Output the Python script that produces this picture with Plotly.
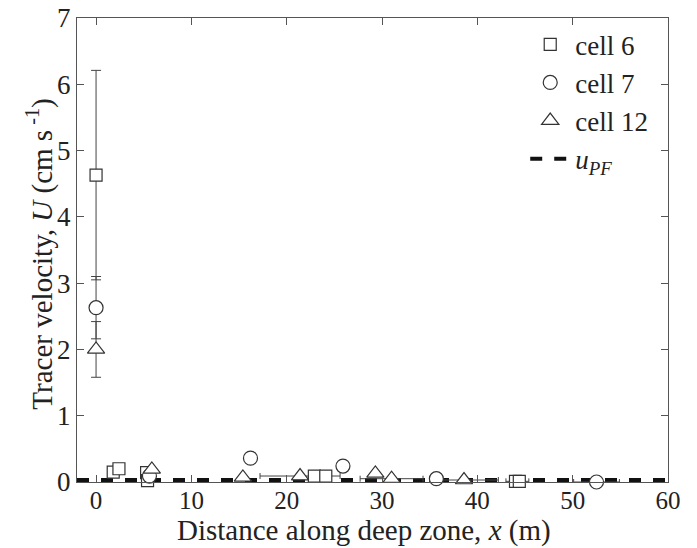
import plotly.graph_objects as go

# ---- data ----
cell6_x = [0, 1.8, 2.4, 5.3, 5.4, 22.9, 24.1, 44.0, 44.4]
cell6_y = [4.63, 0.15, 0.20, 0.14, 0.02, 0.09, 0.09, 0.01, 0.01]
cell7_x = [0, 5.6, 16.2, 25.9, 35.7, 52.5]
cell7_y = [2.63, 0.09, 0.36, 0.24, 0.05, 0.0]
cell12_x = [0, 5.85, 15.4, 21.4, 29.3, 31.0, 38.6]
cell12_y = [2.00, 0.19, 0.07, 0.09, 0.13, 0.05, 0.03]

# vertical error bars (x = 0 points)
verr_x = [0, 0, 0]
verr_y = [4.63, 2.63, 2.00]
verr_plus = [1.58, 0.47, 0.42]
verr_minus = [1.58, 0.47, 0.42]

# horizontal error bars
herr_x = [21.4, 31.0, 38.6, 44.2, 52.5, 23.5]
herr_y = [0.09, 0.05, 0.03, 0.01, 0.0, 0.09]
herr_w = [4.2, 3.3, 3.6, 1.2, 2.4, 1.0]

upf_x = [-2, 60]
upf_y = [0.03, 0.03]

x_ticks = [0, 10, 20, 30, 40, 50, 60]
y_ticks = [0, 1, 2, 3, 4, 5, 6, 7]

x_title = "Distance along deep zone, <i>x</i> (m)"
y_title = "Tracer velocity, <i>U</i> (cm s<sup> -1</sup>)"

mk_col = "#333333"
font = "Liberation Serif"

fig = go.Figure()

fig.add_trace(go.Scatter(x=upf_x, y=upf_y, mode="lines",
                         line=dict(color="#111111", width=4, dash="dash"),
                         showlegend=False, cliponaxis=False))

fig.add_trace(go.Scatter(x=herr_x, y=herr_y, mode="markers",
                         marker=dict(size=1, color="rgba(0,0,0,0)"),
                         error_x=dict(type="data", array=herr_w, color="#444444",
                                      thickness=1, width=3),
                         showlegend=False, hoverinfo="skip"))
fig.add_trace(go.Scatter(x=verr_x, y=verr_y, mode="markers",
                         marker=dict(size=1, color="rgba(0,0,0,0)"),
                         error_y=dict(type="data", array=verr_plus, arrayminus=verr_minus,
                                      symmetric=False, color="#444444",
                                      thickness=1, width=5),
                         showlegend=False, hoverinfo="skip"))

common = dict(mode="markers", cliponaxis=False)
fig.add_trace(go.Scatter(x=cell6_x, y=cell6_y, name="cell 6",
                         marker=dict(symbol="square", size=12, color="white",
                                     line=dict(color=mk_col, width=1.2)), **common))
fig.add_trace(go.Scatter(x=cell7_x, y=cell7_y, name="cell 7",
                         marker=dict(symbol="circle", size=14, color="white",
                                     line=dict(color=mk_col, width=1.2)), **common))
fig.add_trace(go.Scatter(x=cell12_x, y=cell12_y, name="cell 12",
                         marker=dict(symbol="triangle-up", size=15, color="white",
                                     line=dict(color=mk_col, width=1.2)), **common))
fig.add_trace(go.Scatter(x=[None], y=[None], mode="lines",
                         line=dict(color="#111111", width=4, dash="dash"),
                         name="<i>u</i><sub><i>PF</i></sub>"))

axis_common = dict(showline=True, linecolor="#555555", linewidth=1, mirror="ticks",
                   ticks="inside", ticklen=7, tickcolor="#555555", showgrid=False,
                   zeroline=False, automargin=False,
                   tickfont=dict(family=font, size=27, color="#222"))

fig.update_layout(
    width=697, height=548,
    margin=dict(l=77, r=29, t=18, b=66),
    paper_bgcolor="white", plot_bgcolor="white",
    font=dict(family=font, size=27, color="#222"),
    xaxis=dict(range=[-2, 60], tickvals=x_ticks, ticklabelstandoff=-4,
               **{**axis_common, "tickfont": dict(family=font, size=25, color="#222")}),
    yaxis=dict(range=[0, 7], tickvals=y_ticks, **axis_common),
    legend=dict(x=0.975, y=0.995, xanchor="right", yanchor="top",
                bgcolor="rgba(0,0,0,0)", font=dict(family=font, size=27),
                itemwidth=40, tracegroupgap=0),
    annotations=[
        dict(text=x_title, xref="paper", yref="paper", x=0.485, y=0,
             xanchor="center", yanchor="bottom", yshift=-67,
             showarrow=False, font=dict(family=font, size=29, color="#222")),
        dict(text=y_title, xref="paper", yref="paper", x=0, y=0.49,
             xanchor="center", yanchor="middle", xshift=-37, textangle=-90,
             showarrow=False, font=dict(family=font, size=29, color="#222")),
    ],
)

fig.write_html("out.html")
